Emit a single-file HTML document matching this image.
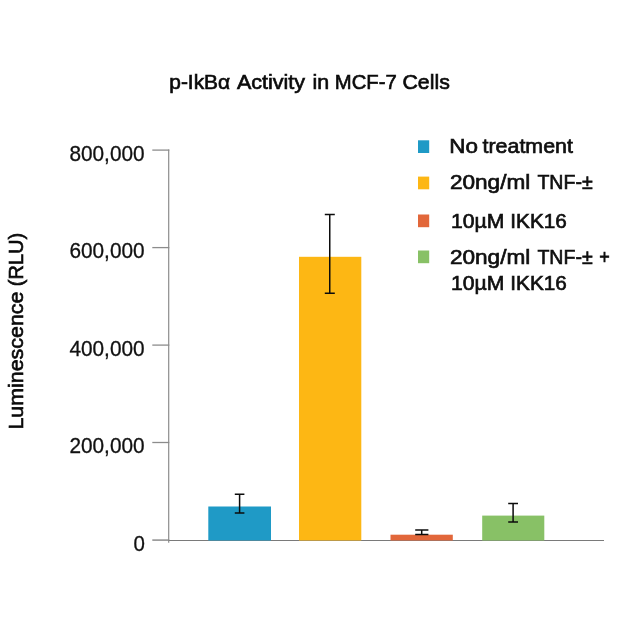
<!DOCTYPE html>
<html><head><meta charset="utf-8"><title>p-IkBα Activity in MCF-7 Cells</title>
<style>
html,body{margin:0;padding:0;background:#fff;}
body{width:640px;height:630px;overflow:hidden;}
svg{display:block;}
text{font-family:"Liberation Sans",sans-serif;fill:#111;}
.m{fill:#0a0a0a;stroke:#0a0a0a;stroke-width:0.65px;}
</style></head><body>
<svg width="640" height="630" viewBox="0 0 640 630">
<rect width="640" height="630" fill="#fff"/>
<!-- title -->
<text class="m" font-size="21" y="89.3"><tspan x="169.25" textLength="60.9" lengthAdjust="spacingAndGlyphs">p-IkBα</tspan> <tspan x="236.9" textLength="68.2" lengthAdjust="spacingAndGlyphs">Activity</tspan> <tspan x="312.58" textLength="16.71" lengthAdjust="spacingAndGlyphs">in</tspan> <tspan x="334.83" textLength="61.93" lengthAdjust="spacingAndGlyphs">MCF-7</tspan> <tspan x="402.49" textLength="47.31" lengthAdjust="spacingAndGlyphs">Cells</tspan></text>
<!-- y label -->
<text class="m" font-size="21" transform="translate(22.8,429.6) rotate(-90)" y="0"><tspan x="0" textLength="138" lengthAdjust="spacingAndGlyphs">Luminescence</tspan> <tspan x="143.4" textLength="53.3" lengthAdjust="spacingAndGlyphs">(RLU)</tspan></text>
<!-- axes -->
<g stroke="#8c8c8c" fill="none">
<line x1="168.7" y1="149.5" x2="168.7" y2="542.8" stroke-width="1.2"/>
<line x1="168" y1="540.5" x2="604" y2="540.5" stroke-width="1" stroke="#7a7a7a"/>
<g stroke-width="1.3">
<line x1="152.3" y1="150.1" x2="169.3" y2="150.1"/>
<line x1="152.3" y1="247.6" x2="169.3" y2="247.6"/>
<line x1="152.3" y1="345.1" x2="169.3" y2="345.1"/>
<line x1="152.3" y1="442.5" x2="169.3" y2="442.5"/>
<line x1="152.3" y1="540.1" x2="169.3" y2="540.1" stroke-width="1.5"/>
</g>
</g>
<!-- tick labels -->
<g font-size="21.3" stroke="#111" stroke-width="0.3">
<text x="69.4" y="160.5" textLength="75.2" lengthAdjust="spacingAndGlyphs">800,000</text>
<text x="69.4" y="258" textLength="75.2" lengthAdjust="spacingAndGlyphs">600,000</text>
<text x="69.4" y="355.5" textLength="75.2" lengthAdjust="spacingAndGlyphs">400,000</text>
<text x="69.4" y="452.9" textLength="75.2" lengthAdjust="spacingAndGlyphs">200,000</text>
<text x="133.5" y="551.2" textLength="11.4" lengthAdjust="spacingAndGlyphs">0</text>
</g>
<!-- bars -->
<rect x="208.3" y="506.5" width="62.7" height="34" fill="#1f9ac6"/>
<rect x="299" y="256.8" width="62.3" height="283.7" fill="#fdb714"/>
<rect x="390.5" y="534.7" width="62.3" height="5.8" fill="#e2673a"/>
<rect x="482.2" y="515.6" width="62.1" height="24.9" fill="#88c166"/>
<!-- error bars -->
<g stroke="#0c0c0c" stroke-width="1.5" fill="none">
<path d="M234.8 494.3H244.4M239.6 494.3V513M234.8 513H244.4"/>
<path d="M324.8 214.6H334.8M329.75 214.6V293.2M324.8 293.2H334.8"/>
<path d="M415.2 530H428.4M421.7 530V534.6M415.2 534.6H428.4"/>
<path d="M508.2 503.4H518M513.1 503.4V522.1M508.2 522.1H518"/>
</g>
<!-- legend -->
<rect x="418" y="140.3" width="11.2" height="12.7" fill="#1f9ac6"/>
<rect x="418" y="176.6" width="11.2" height="12.7" fill="#fdb714"/>
<rect x="418" y="214.5" width="11.2" height="12.7" fill="#e2673a"/>
<rect x="418" y="250.5" width="11.2" height="12.7" fill="#88c166"/>
<g class="m" font-size="21">
<text y="152.5"><tspan x="449.2" textLength="28.7" lengthAdjust="spacingAndGlyphs">No</tspan> <tspan x="482.5" textLength="90.5" lengthAdjust="spacingAndGlyphs">treatment</tspan></text>
<text y="188.5"><tspan x="449.9" textLength="80.4" lengthAdjust="spacingAndGlyphs">20ng/ml</tspan> <tspan x="537.4" textLength="55.3" lengthAdjust="spacingAndGlyphs">TNF-±</tspan></text>
<text y="227.7"><tspan x="451" textLength="53.4" lengthAdjust="spacingAndGlyphs">10µM</tspan> <tspan x="510.3" textLength="56.5" lengthAdjust="spacingAndGlyphs">IKK16</tspan></text>
<text y="263.5"><tspan x="449.9" textLength="80.4" lengthAdjust="spacingAndGlyphs">20ng/ml</tspan> <tspan x="537.4" textLength="55.3" lengthAdjust="spacingAndGlyphs">TNF-±</tspan> <tspan x="599.2" textLength="10.5" lengthAdjust="spacingAndGlyphs">+</tspan></text>
<text y="290"><tspan x="451" textLength="53.4" lengthAdjust="spacingAndGlyphs">10µM</tspan> <tspan x="510.3" textLength="56.5" lengthAdjust="spacingAndGlyphs">IKK16</tspan></text>
</g>
</svg>
</body></html>
